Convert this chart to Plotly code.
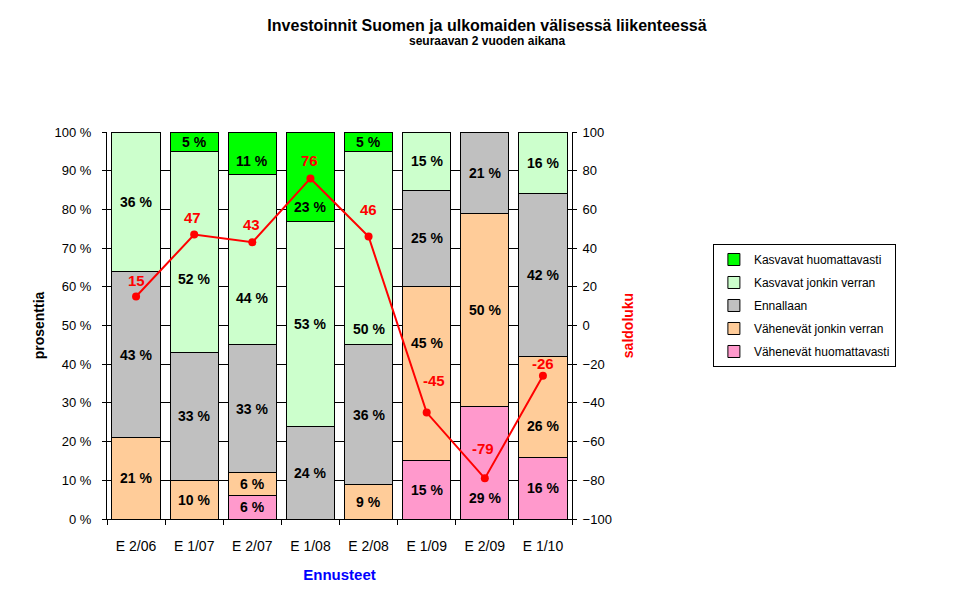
import plotly.graph_objects as go

# data
kaudet = ["E 2/06", "E 1/07", "E 2/07", "E 1/08", "E 2/08", "E 1/09", "E 2/09", "E 1/10"]
vah_huom = [0, 0, 6, 0, 0, 15, 29, 16]
vah_jonk = [21, 10, 6, 0, 9, 45, 50, 26]
ennallaan = [43, 33, 33, 24, 36, 25, 21, 42]
kasv_jonk = [36, 52, 44, 53, 50, 15, 0, 16]
kasv_huom = [0, 5, 11, 23, 5, 0, 0, 0]
saldo = [15, 47, 43, 76, 46, -45, -79, -26]

sarjat = [
    ("Vähenevät huomattavasti", vah_huom, "#FF99CC"),
    ("Vähenevät jonkin verran", vah_jonk, "#FFCC99"),
    ("Ennallaan", ennallaan, "#C0C0C0"),
    ("Kasvavat jonkin verran", kasv_jonk, "#CCFFCC"),
    ("Kasvavat huomattavasti", kasv_huom, "#00FF00"),
]

# labels that were nudged by hand in the original (series index, category index) -> shift in %
label_shift = {
    (3, 1): -7, (3, 2): -10, (4, 2): -2, (4, 3): -8, (3, 4): -21,
    (1, 5): 8, (0, 6): -9, (1, 7): -5,
}
# saldo label offsets above the point, px (and one sideways nudge)
saldo_yshift = [16, 17, 18, 18, 27, 32, 30, 12]
saldo_xshift = [0, -2, -1, -1, 0, 7, -2, 0]

FONT = "Liberation Sans, Arial, sans-serif"

fig = go.Figure()
annotations = []
pohja = [0] * len(kaudet)
for si, (nimi, arvot, vari) in enumerate(sarjat):
    fig.add_trace(go.Bar(
        x=kaudet, y=arvot, name=nimi, legendgroup=nimi,
        legendrank=100 - si,  # top segment first in the legend
        marker=dict(color=vari, line=dict(color="black", width=1)),
    ))
    for ci, v in enumerate(arvot):
        if v > 0:
            annotations.append(dict(
                x=kaudet[ci], y=pohja[ci] + v / 2 + label_shift.get((si, ci), 0),
                xref="x", yref="y", text=f"<b>{v} %</b>", showarrow=False,
                font=dict(family=FONT, size=14, color="black"),
            ))
        pohja[ci] += v

fig.add_trace(go.Scatter(
    x=kaudet, y=saldo, yaxis="y2", mode="lines+markers",
    line=dict(color="#FF0000", width=2), marker=dict(color="#FF0000", size=8),
    showlegend=False,
))
for k, s, dy, dx in zip(kaudet, saldo, saldo_yshift, saldo_xshift):
    annotations.append(dict(
        x=k, y=s, xref="x", yref="y2", yshift=dy, xshift=dx,
        text=f"<b>{s}</b>", showarrow=False,
        font=dict(family=FONT, size=15, color="#FF0000"),
    ))

annotations.append(dict(
    x=0.817, y=1.235, xref="paper", yref="paper", xanchor="center", yanchor="middle",
    text="<b>seuraavan 2 vuoden aikana</b>", showarrow=False,
    font=dict(family=FONT, size=12, color="black"),
))

# the page shows the figure with an 8 px body margin, so margins are trimmed by 8
fig.update_layout(
    width=969, height=592,
    margin=dict(l=99, r=405, t=124, b=81),
    barmode="stack", bargap=0.17,
    paper_bgcolor="white", plot_bgcolor="white",
    font=dict(family=FONT, size=13, color="black"),
    title=dict(text="<b>Investoinnit Suomen ja ulkomaiden välisessä liikenteessä</b>",
               x=479 / 969, xanchor="center", y=1 - 17 / 592, yanchor="middle",
               font=dict(family=FONT, size=16, color="black")),
    xaxis=dict(
        showline=True, linecolor="black", linewidth=1,
        ticks="outside", tickson="boundaries", ticklen=5, tickcolor="black",
        ticklabelstandoff=14,
        title=dict(text="<b>Ennusteet</b>", font=dict(size=15, color="#0000FF"), standoff=16),
        tickfont=dict(size=14),
    ),
    yaxis=dict(
        range=[0, 100], dtick=10, ticksuffix=" %",
        showline=True, linecolor="black", linewidth=1,
        showgrid=True, gridcolor="black", gridwidth=1, zeroline=False,
        ticks="outside", ticklen=4, tickcolor="black", ticklabelstandoff=8,
        title=dict(text="<b>prosenttia</b>", font=dict(size=14, color="black"), standoff=6),
    ),
    yaxis2=dict(
        range=[-100, 100], dtick=20, overlaying="y", side="right",
        showline=True, linecolor="black", linewidth=1,
        showgrid=False, zeroline=False,
        ticks="outside", ticklen=4, tickcolor="black", ticklabelstandoff=3,
        title=dict(text="<b>saldoluku</b>", font=dict(size=14, color="#FF0000"), standoff=12),
    ),
    legend=dict(
        x=1.303, y=0.7106, xanchor="left", yanchor="top",
        traceorder="grouped", tracegroupgap=4,
        bordercolor="black", borderwidth=1, bgcolor="white",
        font=dict(family=FONT, size=12, color="black"),
    ),
    annotations=annotations,
)

fig.write_html("out.html")
